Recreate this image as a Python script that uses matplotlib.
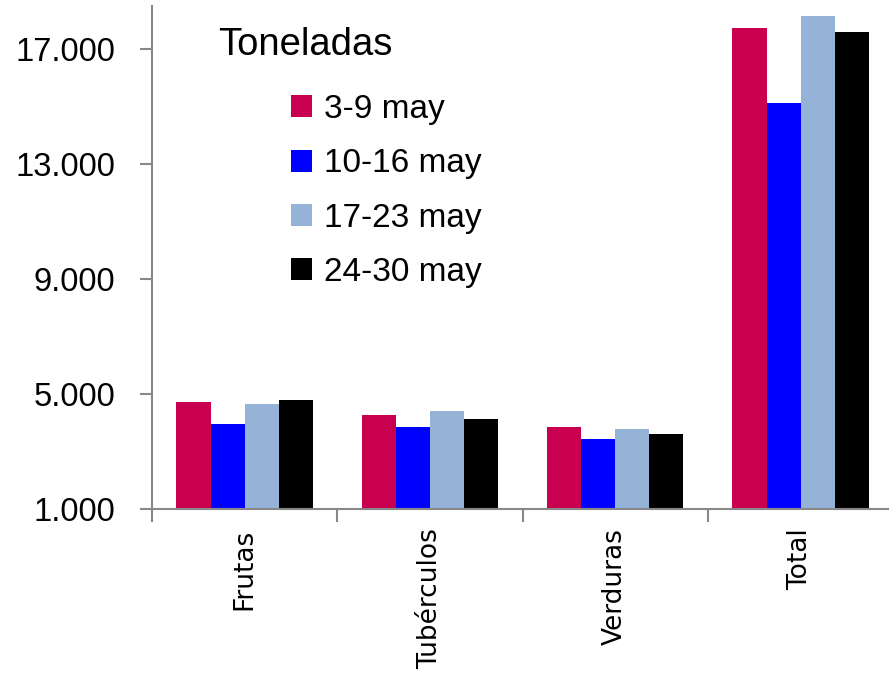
import matplotlib.pyplot as plt
from matplotlib.ticker import FuncFormatter
import numpy as np

categorias = ["Frutas", "Tubérculos", "Verduras", "Total"]
semanas = ["3-9 may", "10-16 may", "17-23 may", "24-30 may"]
s1 = [4710, 4260, 3840, 17750]
s2 = [3960, 3850, 3450, 15130]
s3 = [4650, 4400, 3770, 18160]
s4 = [4780, 4130, 3610, 17590]
series = [s1, s2, s3, s4]
colores = ["#C8004F", "#0000FF", "#95B3D7", "#000000"]
yticks = [1000, 5000, 9000, 13000, 17000]

fig = plt.figure(figsize=(8.89, 6.74), dpi=100)
ax = fig.add_axes([152 / 889, 1 - 509 / 674, 1 - 152 / 889, 503 / 674])

x = np.arange(len(categorias))
w = 0.184
for i in range(len(series)):
	ax.bar(x + (i - 1.5) * w, series[i], w, color=colores[i], label=semanas[i])

ax.set_ylim(1000, 18500)
ax.set_xlim(-0.5, 3.477)
ax.set_yticks(yticks)
ax.yaxis.set_major_formatter(FuncFormatter(lambda v, p: "{:,.0f}".format(v).replace(",", ".")))
for t in ax.get_yticklabels():
	t.set_fontfamily("Liberation Sans")
	t.set_fontsize(23.5)
ax.tick_params(axis="y", direction="out", length=8.6, width=1.5, color="#888888", pad=18)

ax.set_xticks(x)
ax.set_xticklabels(categorias, rotation=90, fontsize=19, family="DejaVu Sans")
ax.tick_params(axis="x", which="major", length=0, pad=14)
ax.set_xticks(np.arange(len(categorias)) - 0.5, minor=True)
ax.tick_params(axis="x", which="minor", direction="out", length=9, width=1.5, color="#888888")

ax.spines["top"].set_visible(False)
ax.spines["right"].set_visible(False)
ax.spines["left"].set_color("#888888")
ax.spines["bottom"].set_color("#888888")
ax.spines["left"].set_linewidth(1.5)
ax.spines["bottom"].set_linewidth(1.5)

fig.text(218 / 889, 1 - 45 / 674, "Toneladas", fontsize=27.5, family="Liberation Sans", va="center")
leg = ax.legend(loc="upper left", bbox_to_anchor=(139 / 737, 1 - 88 / 503), frameon=False,
	prop={"family": "Liberation Sans", "size": 24}, handlelength=0.63, handleheight=0.63,
	handletextpad=0.35, labelspacing=0.70, borderaxespad=0, borderpad=0)

fig.savefig("out.png", dpi=100)
